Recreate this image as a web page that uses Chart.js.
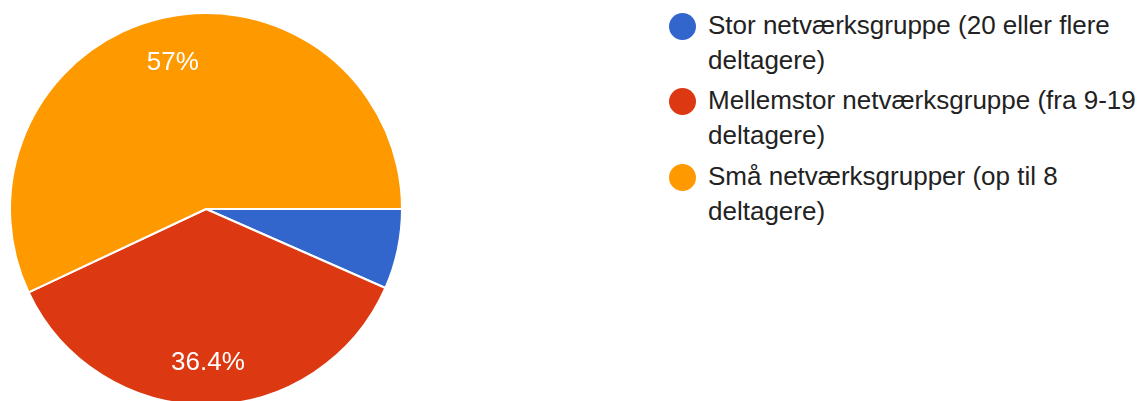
<!DOCTYPE html>
<html lang="da">
<head>
<meta charset="utf-8">
<title>Netværksgrupper</title>
<script src="https://cdn.jsdelivr.net/npm/chart.js@4/dist/chart.umd.min.js"></script>
<style>
  html, body { margin: 0; padding: 0; background: #fff; }
  body { width: 1143px; height: 401px; overflow: hidden; position: relative; font-family: Arial, "Liberation Sans", sans-serif; }
  .pie-wrap { position: absolute; left: 0; top: 0; width: 412px; height: 418px; }
  .legend { position: absolute; left: 669px; top: 7.5px; list-style: none; margin: 0; padding: 0; }
  .legend li { position: relative; padding-left: 39px; margin-bottom: 5.5px; font-size: 26px; line-height: 35px; color: #222; white-space: nowrap; }
  .legend .dot { position: absolute; left: 0; top: 5px; width: 27px; height: 27px; border-radius: 50%; }
</style>
</head>
<body>
<div class="pie-wrap"><canvas id="groupChart"></canvas></div>
<ul class="legend" data-legend></ul>

<script>
// svarfordeling i procent
const groupLabels = [
  ["Stor netværksgruppe (20 eller flere", "deltagere)"],
  ["Mellemstor netværksgruppe (fra 9-19", "deltagere)"],
  ["Små netværksgrupper (op til 8", "deltagere)"],
];
const groupShares = [6.6, 36.4, 57];
const groupColors = ["#3366cc", "#dc3912", "#ff9900"];

// procenttekst inde i skiverne, lidt uden for midten af radius
const sliceLabels = {
  id: "sliceLabels",
  afterDatasetsDraw(chart) {
    const { ctx } = chart;
    const data = chart.data.datasets[0].data;
    const total = data.reduce((a, b) => a + b, 0);
    chart.getDatasetMeta(0).data.forEach((arc, i) => {
      const share = (data[i] / total) * 100;
      if (share < 10) return;
      const { x, y, startAngle, endAngle, outerRadius } = arc.getProps(["x", "y", "startAngle", "endAngle", "outerRadius"], true);
      const mid = (startAngle + endAngle) / 2;
      const r = outerRadius * 0.777;
      ctx.save();
      ctx.fillStyle = "#fff";
      ctx.font = '26px Arial, "Liberation Sans", sans-serif';
      ctx.textAlign = "center";
      ctx.textBaseline = "middle";
      ctx.fillText(`${Math.round(share * 10) / 10}%`, x + Math.cos(mid) * r, y + Math.sin(mid) * r + 2);
      ctx.restore();
    });
  },
};

const chart = new Chart(document.getElementById("groupChart"), {
  type: "pie",
  data: {
    labels: groupLabels,
    datasets: [{ data: groupShares, backgroundColor: groupColors, borderColor: "#fff", borderWidth: 2 }],
  },
  options: {
    responsive: true,
    maintainAspectRatio: false,
    animation: false,
    rotation: 90,
    radius: 196,
    layout: { padding: 0 },
    plugins: { legend: { display: false }, tooltip: { enabled: false } },
  },
  plugins: [sliceLabels],
});

const legend = document.querySelector("[data-legend]");
legend.innerHTML = chart.data.labels
  .map((lines, i) => `<li><span class="dot" style="background:${groupColors[i]}"></span>${lines.join("<br>")}</li>`)
  .join("");
</script>
</body>
</html>
